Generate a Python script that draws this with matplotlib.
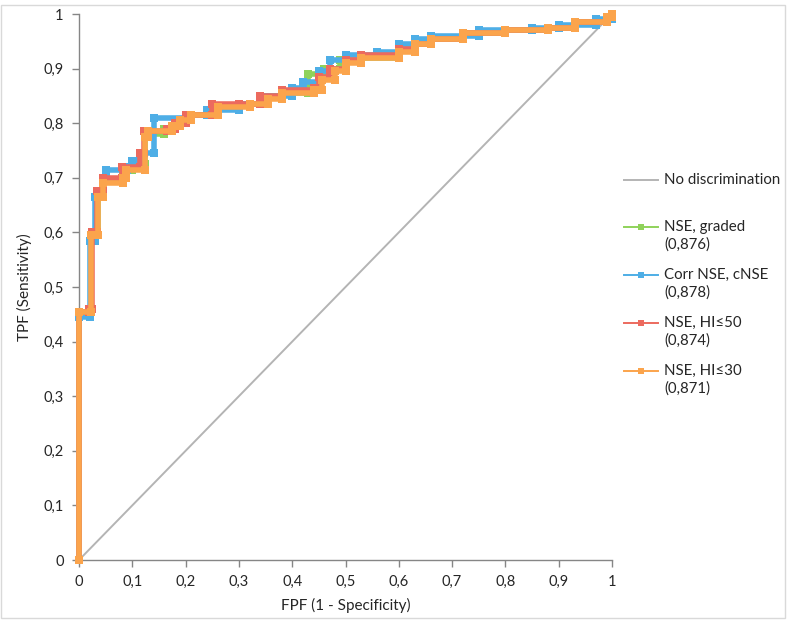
import matplotlib
matplotlib.use("Agg")
import matplotlib.pyplot as plt
from matplotlib.lines import Line2D
from matplotlib.patches import Rectangle
import numpy as np

plt.rcParams['font.family'] = ['Lato', 'DejaVu Sans']

# ROC knots: at each fpf the curve rises vertically to tpf, then runs horizontally to the next fpf
series_names = ["NSE, graded", "Corr NSE, cNSE", "NSE, HI\u226450", "NSE, HI\u226430"]
series_auc = ["(0,876)", "(0,878)", "(0,874)", "(0,871)"]
series_colors = ["#8fd25a", "#4eaee6", "#ec6a5e", "#fba44c"]

green_fpf = [0, 0.022, 0.035, 0.045, 0.083, 0.1, 0.124, 0.16, 0.18, 0.2, 0.25, 0.3, 0.34, 0.38, 0.43, 0.46, 0.49, 0.53, 0.6, 0.63, 0.66, 0.72, 0.8, 0.88, 0.93, 0.99, 1.0]
green_tpf = [0.455, 0.595, 0.67, 0.695, 0.715, 0.725, 0.78, 0.79, 0.80, 0.815, 0.83, 0.835, 0.85, 0.855, 0.89, 0.9, 0.915, 0.92, 0.935, 0.945, 0.955, 0.965, 0.97, 0.975, 0.985, 0.995, 1.0]

blue_fpf = [0, 0.02, 0.03, 0.045, 0.05, 0.09, 0.1, 0.115, 0.14, 0.2, 0.24, 0.3, 0.34, 0.4, 0.42, 0.45, 0.47, 0.5, 0.56, 0.6, 0.63, 0.66, 0.75, 0.85, 0.9, 0.97, 1.0]
blue_tpf = [0.445, 0.585, 0.665, 0.70, 0.715, 0.72, 0.73, 0.745, 0.81, 0.815, 0.825, 0.835, 0.85, 0.865, 0.875, 0.895, 0.915, 0.925, 0.93, 0.945, 0.955, 0.96, 0.97, 0.975, 0.98, 0.99, 1.0]

red_fpf = [0, 0.018, 0.025, 0.033, 0.045, 0.08, 0.115, 0.122, 0.165, 0.18, 0.2, 0.25, 0.3, 0.34, 0.38, 0.44, 0.45, 0.47, 0.5, 0.53, 0.6, 0.63, 0.66, 0.72, 0.8, 0.88, 0.93, 0.99, 1.0]
red_tpf = [0.455, 0.46, 0.6, 0.675, 0.70, 0.72, 0.745, 0.785, 0.79, 0.80, 0.815, 0.835, 0.835, 0.85, 0.86, 0.865, 0.885, 0.9, 0.915, 0.925, 0.935, 0.945, 0.955, 0.965, 0.97, 0.975, 0.985, 0.995, 1.0]

orange_fpf = [0, 0.022, 0.036, 0.045, 0.083, 0.088, 0.124, 0.13, 0.175, 0.19, 0.21, 0.26, 0.32, 0.355, 0.38, 0.44, 0.455, 0.48, 0.5, 0.53, 0.6, 0.63, 0.66, 0.72, 0.8, 0.88, 0.93, 0.99, 1.0]
orange_tpf = [0.455, 0.595, 0.665, 0.69, 0.70, 0.715, 0.775, 0.785, 0.795, 0.805, 0.815, 0.83, 0.835, 0.845, 0.855, 0.86, 0.88, 0.895, 0.91, 0.92, 0.93, 0.945, 0.955, 0.965, 0.97, 0.975, 0.985, 0.995, 1.0]

diag_fpf = [0, 1]
diag_tpf = [0, 1]

tick_vals = [i / 10 for i in range(11)]
tick_labels = ["0", "0,1", "0,2", "0,3", "0,4", "0,5", "0,6", "0,7", "0,8", "0,9", "1"]


def corners(fx, fy):
    xs, ys = [0.0], [0.0]
    for i, (x, y) in enumerate(zip(fx, fy)):
        xs.append(x); ys.append(y)
        if i + 1 < len(fx):
            xs.append(fx[i + 1]); ys.append(y)
    return xs, ys


W, H = 789, 621
fig = plt.figure(figsize=(W / 100, H / 100), dpi=100)
ax = fig.add_axes([79 / W, (H - 560) / H, (612 - 79) / W, (560 - 14) / H])

ax.plot(diag_fpf, diag_tpf, color="#b4b4b4", lw=1.4, zorder=2)

all_series = [(green_fpf, green_tpf), (blue_fpf, blue_tpf), (red_fpf, red_tpf), (orange_fpf, orange_tpf)]
for (fx, fy), c in zip(all_series, series_colors):
    xs, ys = corners(fx, fy)
    ax.plot(xs, ys, color=c, lw=4.0, marker="s", ms=5.5, mew=0, solid_joinstyle="miter",
            zorder=3, clip_on=False)

ax.set_xlim(0, 1)
ax.set_ylim(0, 1)
ax.set_xticks(tick_vals)
ax.set_xticklabels(tick_labels)
ax.set_yticks(tick_vals)
ax.set_yticklabels(tick_labels)
for s in ["top", "right"]:
    ax.spines[s].set_visible(False)
for s in ["left", "bottom"]:
    ax.spines[s].set_color("#868686")
    ax.spines[s].set_linewidth(1.0)
ax.tick_params(axis="both", direction="out", length=5, width=1.0, color="#868686",
               labelsize=10.5, labelcolor="#262626", pad=6)
ax.set_xlabel("FPF (1 - Specificity)", fontsize=11, color="#262626", labelpad=6)
ax.set_ylabel("TPF (Sensitivity)", fontsize=11, color="#262626", labelpad=8)

# Legend drawn in figure pixel coordinates
def fx_(px):
    return px / W

def fy_(py):
    return 1 - py / H

fig.add_artist(Line2D([fx_(624), fx_(658)], [fy_(180), fy_(180)], color="#b4b4b4", lw=1.4))
fig.text(fx_(664), fy_(180), "No discrimination", fontsize=10.8, color="#262626", va="center", ha="left")
row_y = [227, 275, 323, 371]
for name, auc, c, ry in zip(series_names, series_auc, series_colors, row_y):
    fig.add_artist(Line2D([fx_(624), fx_(658)], [fy_(ry), fy_(ry)], color=c, lw=1.4))
    fig.add_artist(Line2D([fx_(641)], [fy_(ry)], color=c, marker="s", ms=4, mew=0, lw=0))
    fig.text(fx_(664), fy_(ry), name, fontsize=10.8, color="#262626", va="center", ha="left")
    fig.text(fx_(664), fy_(ry + 18), auc, fontsize=10.8, color="#262626", va="center", ha="left")

fig.add_artist(Rectangle((fx_(1), fy_(618)), fx_(784), 613 / H, transform=fig.transFigure,
                         fill=False, edgecolor="#d9d9d9", lw=1.0))

fig.savefig("out.png", dpi=100)
